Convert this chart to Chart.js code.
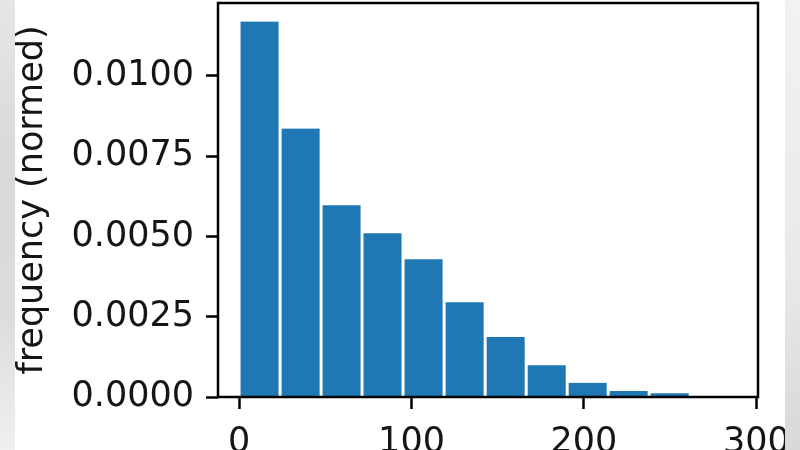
<!DOCTYPE html>
<html>
<head>
<meta charset="utf-8">
<script src="https://cdn.jsdelivr.net/npm/chart.js@4/dist/chart.umd.min.js"></script>
<style>
  html, body { margin: 0; padding: 0; background: #ffffff; overflow: hidden; width: 800px; height: 450px; }
  #wrap { position: relative; width: 800px; height: 450px; overflow: hidden; }
  #c { position: absolute; left: 0; top: 0; }
  .edgeL { position: absolute; left: 0; top: 0; width: 15px; height: 450px;
           background: linear-gradient(to bottom, #e6e6e6 0%, #d9d9d9 35%, #dcdcdc 70%, #f0f0f0 100%); }
  .edgeR { position: absolute; left: 785px; top: 0; width: 15px; height: 450px;
           background: linear-gradient(to bottom, #f2f2f2 0%, #e9e9e9 60%, #d8d8d8 100%); }
</style>
</head>
<body>
<div id="wrap">
  <canvas id="c" width="800" height="480"></canvas>
  <div class="edgeL"></div>
  <div class="edgeR"></div>
</div>
<script>
// ---- data ----
const binEdges = [0, 23.8, 47.6, 71.3, 95.1, 118.9, 142.7, 166.5, 190.3, 214.0, 237.8, 261.6];
const density  = [0.01169, 0.00836, 0.00597, 0.00510, 0.00429, 0.00295, 0.00187, 0.00099, 0.00044, 0.00019, 0.00012];
const xTickValues = [0, 100, 200, 300];
const yTickValues = [0, 0.0025, 0.0050, 0.0075, 0.0100];
const yTitle = 'frequency (normed)';

const points = density.map((d, i) => ({ x: (binEdges[i] + binEdges[i + 1]) / 2, y: d }));

const FONT = { family: '"DejaVu Sans", sans-serif', size: 35 };
const TEXT = '#151515';

const framePlugin = {
  id: 'frame',
  afterDatasetsDraw(chart) {
    const a = chart.chartArea, ctx = chart.ctx;
    ctx.save();
    ctx.strokeStyle = '#000';
    ctx.lineWidth = 2.5;
    ctx.strokeRect(a.left, a.top, a.right - a.left, a.bottom - a.top);
    ctx.restore();
  }
};

new Chart(document.getElementById('c'), {
  type: 'bar',
  data: {
    datasets: [{
      data: points,
      backgroundColor: '#1f77b4',
      borderColor: '#ffffff',
      borderWidth: { left: 1.8, right: 1.8, top: 0, bottom: 0 },
      borderSkipped: false,
      barPercentage: 1.0,
      categoryPercentage: 1.0
    }]
  },
  options: {
    responsive: false,
    animation: false,
    devicePixelRatio: 1,
    layout: { padding: { left: 0, right: 42, top: 3, bottom: 0 } },
    plugins: { legend: { display: false }, tooltip: { enabled: false }, title: { display: false } },
    scales: {
      x: {
        type: 'linear',
        min: -12.2,
        max: 300.9,
        offset: false,
        afterBuildTicks: s => { s.ticks = xTickValues.map(v => ({ value: v })); },
        afterFit: s => { s.height = 83; s.paddingLeft = 0; s.paddingRight = 0; },
        grid: { offset: false, drawOnChartArea: false, drawTicks: true, tickLength: 12, tickWidth: 2.5, tickColor: '#000' },
        border: { display: false },
        ticks: { color: TEXT, font: FONT, padding: 13, maxRotation: 0, autoSkip: false,
                 callback: v => String(v) }
      },
      y: {
        type: 'linear',
        min: 0,
        max: 0.01227,
        afterBuildTicks: s => { s.ticks = yTickValues.map(v => ({ value: v })); },
        afterFit: s => { s.width = 218; s.paddingTop = 0; s.paddingBottom = 0; },
        grid: { drawOnChartArea: false, drawTicks: true, tickLength: 12, tickWidth: 2.5, tickColor: '#000' },
        border: { display: false },
        ticks: { color: TEXT, font: FONT, padding: 12, autoSkip: false,
                 callback: v => Number(v).toFixed(4) },
        title: { display: true, text: yTitle, color: TEXT, font: FONT, padding: { top: 12, bottom: 0 } }
      }
    }
  },
  plugins: [framePlugin]
});
</script>
</body>
</html>
